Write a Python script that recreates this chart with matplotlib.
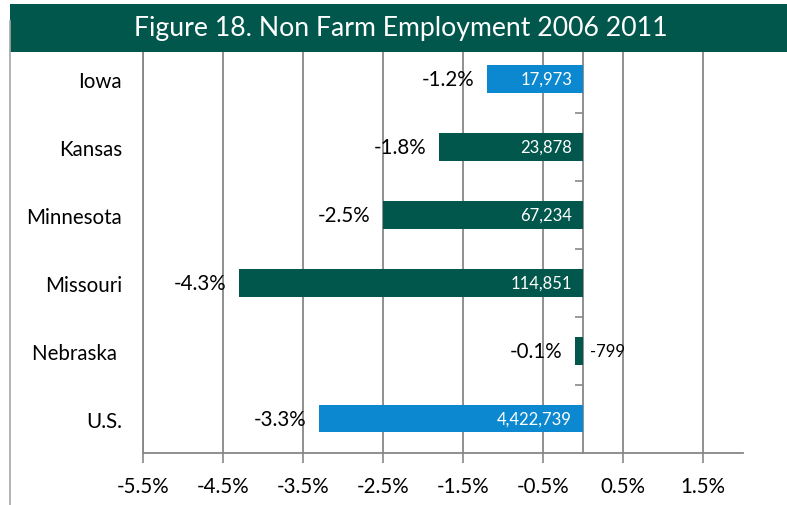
import numpy as np
import matplotlib
matplotlib.use("Agg")
import matplotlib.pyplot as plt
from matplotlib.lines import Line2D
from matplotlib.transforms import offset_copy

plt.rcParams['font.family'] = ['Lato', 'DejaVu Sans']

states = ['Iowa', 'Kansas', 'Minnesota', 'Missouri', 'Nebraska ', 'U.S.']
pct_change = [-1.2, -1.8, -2.5, -4.3, -0.1, -3.3]
jobs_lost = ['17,973', '23,878', '67,234', '114,851', '-799', '4,422,739']
is_blue = [True, False, False, False, False, True]
xticks = [-5.5, -4.5, -3.5, -2.5, -1.5, -0.5, 0.5, 1.5]

blue = '#0B88CF'
green = '#02574C'
grid_gray = '#878787'

W, H = 787, 506
fig = plt.figure(figsize=(W / 100, H / 100), dpi=100)
ax = fig.add_axes([143 / W, (H - 453.5) / H, 600 / W, (453.5 - 46) / H])

y = np.arange(len(states))
colors = [blue if b else green for b in is_blue]
ax.barh(y, pct_change, height=0.41, color=colors, zorder=3)

ax.set_xlim(-5.5, 2.0)
ax.set_ylim(len(states) - 0.5, -0.5)
ax.set_xticks(xticks)
ax.set_xticklabels([f'{t:.1f}%' for t in xticks], fontsize=14.8)
ax.set_yticks(y)
ax.set_yticklabels(states, fontsize=14.8)
ax.tick_params(axis='y', length=0, pad=15)
ax.tick_params(axis='x', length=7, width=1.2, color=grid_gray, pad=10)
ax.grid(axis='x', color=grid_gray, lw=1.3, zorder=1)
for s in ['top', 'right']:
    ax.spines[s].set_visible(False)
for s in ['left', 'bottom']:
    ax.spines[s].set_color(grid_gray)
    ax.spines[s].set_linewidth(1.3)

# category axis crossing at zero, ticks between categories pointing left
zero_frac = (0 - (-5.5)) / (2.0 - (-5.5))
sec = ax.secondary_yaxis(zero_frac)
sec.set_yticks(np.arange(0.5, len(states) - 0.5, 1.0))
sec.set_yticklabels([])
sec.tick_params(axis='y', direction='in', length=6, width=1.2, color=grid_gray)
sec.spines['right'].set_visible(True)
sec.spines['right'].set_color(grid_gray)
sec.spines['right'].set_linewidth(1.3)
for s in ['left', 'top', 'bottom']:
    sec.spines[s].set_visible(False)

for i, (v, lab) in enumerate(zip(pct_change, jobs_lost)):
    tr_l = offset_copy(ax.transData, fig=fig, x=-13, y=0, units='dots')
    ax.text(v, i, f'{v:.1f}%', ha='right', va='center', fontsize=14.8,
            color='black', transform=tr_l, zorder=5)
    if abs(v) < 0.5:
        tr_o = offset_copy(ax.transData, fig=fig, x=7, y=0, units='dots')
        ax.text(0, i, lab, ha='left', va='center', fontsize=12,
                color='black', transform=tr_o, zorder=5)
    else:
        tr_i = offset_copy(ax.transData, fig=fig, x=-11, y=0, units='dots')
        ax.text(0, i, lab, ha='right', va='center', fontsize=12,
                color='white', transform=tr_i, zorder=5)

# title banner
ban = fig.add_axes([10 / W, (H - 53) / H, (W - 10) / W, 48 / H])
ban.set_facecolor(green)
ban.set_xticks([])
ban.set_yticks([])
for s in ban.spines.values():
    s.set_visible(False)
ban.text(0.503, 0.5, 'Figure 18. Non Farm Employment 2006 2011', color='white',
         fontsize=19.2, ha='center', va='center', transform=ban.transAxes)

# left frame line
fig.add_artist(Line2D([9.5 / W, 9.5 / W], [0, (H - 22) / H], color='#A6A6A6',
                      lw=1.2, transform=fig.transFigure))

fig.savefig('out.png', dpi=100)
